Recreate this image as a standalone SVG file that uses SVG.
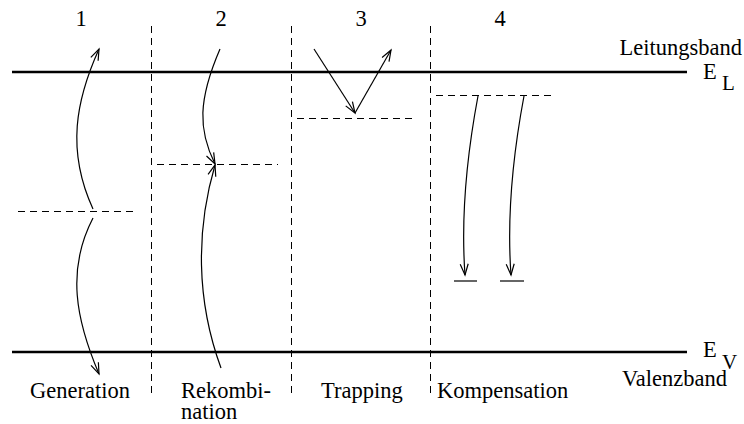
<svg xmlns="http://www.w3.org/2000/svg" width="744" height="424" viewBox="0 0 744 424">
<style>
text{font-family:"Liberation Serif","Times New Roman",serif;font-size:22.5px;fill:#000}
.sub{font-size:21px}
.band{stroke:#000;stroke-width:2.5;fill:none}
.dash{stroke:#000;stroke-width:1;stroke-dasharray:7,5;fill:none}
.arr{stroke:#000;stroke-width:1.2;fill:none;marker-end:url(#ah)}
.lvl{stroke:#000;stroke-width:1.2}
</style>
<defs>
<marker id="ah" markerUnits="userSpaceOnUse" markerWidth="14" markerHeight="10" viewBox="-12 -5 14 10" refX="0" refY="0" orient="auto">
<path d="M-11,-4 L0,0 L-11,4" fill="none" stroke="#000" stroke-width="1.2"/>
</marker>
</defs>
<rect width="744" height="424" fill="#fff"/>
<g id="bands">
<line class="band" x1="12" y1="72" x2="687" y2="72"/>
<line class="band" x1="12" y1="352" x2="687" y2="352"/>
<text x="742" y="55" text-anchor="end">Leitungsband</text>
<text x="703" y="79">E</text>
<text class="sub" x="722" y="90">L</text>
<text x="703" y="357">E</text>
<text class="sub" x="722" y="369">V</text>
<text x="727" y="386" text-anchor="end">Valenzband</text>
</g>
<g id="separators">
<line class="dash" x1="151.5" y1="26" x2="151.5" y2="394"/>
<line class="dash" x1="291.5" y1="26" x2="291.5" y2="394"/>
<line class="dash" x1="430.5" y1="26" x2="430.5" y2="394"/>
</g>
<g id="generation">
<text x="81" y="26" text-anchor="middle">1</text>
<line class="dash" x1="18" y1="211.5" x2="137" y2="211.5"/>
<text x="30" y="398">Generation</text>
</g>
<g id="rekombination">
<text x="221" y="26" text-anchor="middle">2</text>
<line class="dash" x1="157" y1="164.5" x2="278" y2="164.5"/>
<text x="181" y="398">Rekombi-</text>
<text x="181" y="419">nation</text>
</g>
<g id="trapping">
<text x="361" y="26" text-anchor="middle">3</text>
<line class="dash" x1="297" y1="118.5" x2="416" y2="118.5"/>
<text x="321" y="398">Trapping</text>
</g>
<g id="kompensation">
<text x="500" y="26" text-anchor="middle">4</text>
<line class="dash" x1="436" y1="95.5" x2="556" y2="95.5"/>
<line class="lvl" x1="454" y1="281" x2="477" y2="281"/>
<line class="lvl" x1="500" y1="281" x2="524" y2="281"/>
<text x="437" y="398">Kompensation</text>
</g>
<g id="connectors">
<path class="arr" d="M93,209 C66,150 76,100 99,49"/>
<path class="arr" d="M93,218 C66,270 76,320 99,374"/>
<path class="arr" d="M220,49 C198,100 198,130 215,164"/>
<path class="arr" d="M221,368 C196,300 196,230 215,165"/>
<path class="arr" d="M314,49 L355,113"/>
<path class="arr" d="M355,113 L391,50"/>
<path class="arr" d="M478,96 C466,160 461,220 465,275"/>
<path class="arr" d="M524,96 C512,160 507,220 511,275"/>
</g>
</svg>
